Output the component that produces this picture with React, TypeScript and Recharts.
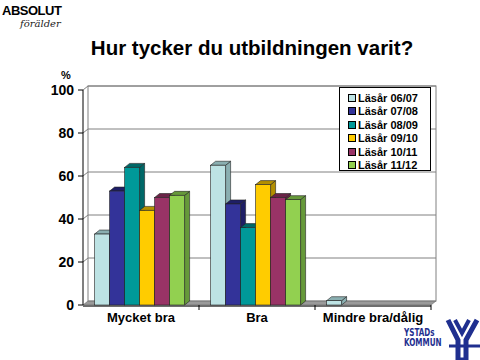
import { BarChart, Bar, XAxis, YAxis, CartesianGrid, Legend, ReferenceArea } from "recharts";

const categories = ["Mycket bra", "Bra", "Mindre bra/dålig"];
const seriesNames = ["Läsår 06/07", "Läsår 07/08", "Läsår 08/09", "Läsår 09/10", "Läsår 10/11", "Läsår 11/12"];
const s0607 = [33, 65, 2];
const s0708 = [53, 47, 0];
const s0809 = [64, 36, 0];
const s0910 = [44, 56, 0];
const s1011 = [50, 50, 0];
const s1112 = [51, 49, 0];
const yTicks = [0, 20, 40, 60, 80, 100];

const seriesValues = [s0607, s0708, s0809, s0910, s1011, s1112];
const colors = ["#BDE3E4", "#333399", "#009999", "#FFCC00", "#993366", "#92D050"];
const darks = ["#8AAFB1", "#1E1E66", "#006868", "#B38F00", "#6A2447", "#66993A"];

const data = categories.map((name, i) => {
  const row: Record<string, string | number> = { name };
  seriesNames.forEach((s, j) => (row[s] = seriesValues[j][i]));
  return row;
});

const DX = 5;
const DY = 4;
const FONT = "'Liberation Sans', Arial, sans-serif";

const makeShape = (idx: number) => (props: any) => {
  const { x, y, width: w, height: h } = props;
  if (!h || h <= 0) return <g />;
  const fill = colors[idx];
  const dark = darks[idx];
  return (
    <g>
      <polygon
        points={`${x + w},${y} ${x + w + DX},${y - DY} ${x + w + DX},${y + h - DY} ${x + w},${y + h}`}
        fill={dark}
        stroke="#222"
        strokeWidth={0.6}
      />
      <polygon
        points={`${x},${y} ${x + DX},${y - DY} ${x + w + DX},${y - DY} ${x + w},${y}`}
        fill={dark}
        stroke="#222"
        strokeWidth={0.6}
      />
      <rect x={x} y={y} width={w} height={h} fill={fill} stroke="#222" strokeWidth={0.6} />
    </g>
  );
};

const gridLine = (props: any) => {
  const { x1, x2, y1 } = props;
  const isFloor = y1 > 300;
  if (isFloor) {
    return (
      <g key={props.key}>
        <polygon
          points={`${x1},${y1} ${x1 + DX},${y1 - DY} ${x2 + DX},${y1 - DY} ${x2},${y1}`}
          fill="#9a9a9a"
          stroke="#666"
          strokeWidth={0.6}
        />
        <rect x={x1} y={y1} width={x2 - x1} height={2} fill="#6e6e6e" />
      </g>
    );
  }
  return (
    <g key={props.key}>
      <line x1={x1} y1={y1} x2={x1 + DX} y2={y1 - DY} stroke="#808080" strokeWidth={1} />
      <line x1={x1 + DX} y1={y1 - DY} x2={x2 + DX} y2={y1 - DY} stroke="#808080" strokeWidth={1} />
    </g>
  );
};

const wallShape = (props: any) => {
  const { x, y, width, height } = props;
  return (
    <rect
      x={x + DX}
      y={y - DY}
      width={width}
      height={height}
      fill="none"
      stroke="#808080"
      strokeWidth={1}
    />
  );
};

const XTick = (props: any) => {
  const { x, y, payload } = props;
  const band = (480 - 83 - 49) / categories.length;
  return (
    <g>
      <line x1={x + band / 2} y1={305} x2={x + band / 2} y2={310} stroke="#000" />
      <text
        x={x}
        y={y}
        dy="0.71em"
        textAnchor="middle"
        fontFamily={FONT}
        fontWeight="bold"
        fontSize={13}
        fill="#000"
      >
        {payload.value}
      </text>
    </g>
  );
};

const LegendBox = (props: any) => {
  const { payload } = props;
  return (
    <div
      style={{
        border: "1px solid #000",
        background: "#fff",
        width: 92,
        height: 84,
        boxSizing: "border-box",
        paddingTop: 3,
        paddingLeft: 8,
      }}
    >
      {(payload || []).map((p: any, i: number) => (
        <div
          key={i}
          style={{
            display: "flex",
            alignItems: "center",
            height: 13.5,
            fontFamily: FONT,
            fontWeight: "bold",
            fontSize: 11,
            color: "#000",
          }}
        >
          <span
            style={{
              width: 6,
              height: 6,
              background: colors[i],
              border: "1px solid #000",
              marginRight: 2,
              display: "inline-block",
            }}
          />
          {p.value}
        </div>
      ))}
    </div>
  );
};

export default function App() {
  return (
    <div
      style={{
        position: "absolute",
        left: 0,
        top: 0,
        width: 480,
        height: 360,
        background: "#fff",
        fontFamily: FONT,
      }}
    >
      <div
        style={{
          position: "absolute",
          left: 2,
          top: 4,
          fontWeight: "bold",
          fontSize: 13,
          lineHeight: "13px",
          letterSpacing: -0.5,
          color: "#000",
        }}
      >
        ABSOLUT
      </div>
      <div
        style={{
          position: "absolute",
          left: 20,
          top: 19,
          fontStyle: "italic",
          fontSize: 10,
          lineHeight: "10px",
          fontFamily: "'DejaVu Serif', serif",
          color: "#222",
        }}
      >
        förälder
      </div>
      <div
        style={{
          position: "absolute",
          left: 0,
          top: 36,
          width: 504,
          textAlign: "center",
          fontWeight: "bold",
          fontSize: 20.5,
          color: "#000",
        }}
      >
        Hur tycker du utbildningen varit?
      </div>
      <div style={{ position: "absolute", left: 61, top: 69, fontSize: 11, fontWeight: "bold" }}>%</div>

      <BarChart
        width={480}
        height={360}
        data={data}
        margin={{ top: 90, right: 49, bottom: 25, left: 43 }}
        barCategoryGap="10%"
        barGap={0}
      >
        <ReferenceArea y1={0} y2={100} shape={wallShape} ifOverflow="visible" />
        <CartesianGrid horizontal={gridLine} vertical={false} />
        <XAxis
          dataKey="name"
          axisLine={false}
          tickLine={false}
          height={30}
          tick={<XTick />}
          interval={0}
        />
        <YAxis
          domain={[0, 100]}
          ticks={yTicks}
          width={40}
          axisLine={{ stroke: "#000" }}
          tickLine={{ stroke: "#000" }}
          tickSize={5}
          tickMargin={4}
          tick={{ fontFamily: FONT, fontWeight: "bold", fontSize: 14, fill: "#000" }}
        />
        <Legend
          layout="vertical"
          align="center"
          verticalAlign="middle"
          content={<LegendBox />}
          wrapperStyle={{ position: "absolute", left: 339, top: 87, width: 92, height: 84 }}
        />
        {seriesNames.map((s, i) => (
          <Bar key={s} dataKey={s} fill={colors[i]} shape={makeShape(i)} isAnimationActive={false} />
        ))}
      </BarChart>

      <div style={{ position: "absolute", left: 404, top: 318, width: 76, height: 42 }}>
        <div
          style={{
            position: "absolute",
            left: 0,
            top: 10,
            color: "#1F2F8F",
            fontWeight: "bold",
            fontSize: 10,
            lineHeight: "10px",
            transform: "scaleX(0.8)",
            transformOrigin: "left",
            fontFamily: "'DejaVu Sans Condensed', sans-serif",
          }}
        >
          YSTADs
          <br />
          KOMMUN
        </div>
        <svg style={{ position: "absolute", left: 41, top: 0 }} width={35} height={42}>
          <path d="M3 2 L13 22 L13 42 L21 42 L21 22 L32 2" fill="none" stroke="#1F2F8F" strokeWidth={5} />
          <path d="M10 2 L17 15 L24 2" fill="none" stroke="#1F2F8F" strokeWidth={4} />
          <path d="M4 28 L35 28" stroke="#1F2F8F" strokeWidth={3} />
        </svg>
      </div>
    </div>
  );
}
